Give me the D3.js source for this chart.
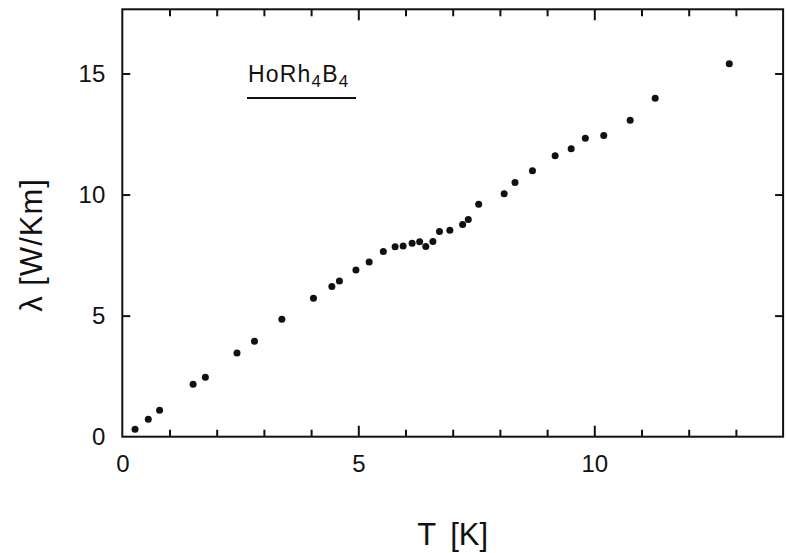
<!DOCTYPE html>
<html><head><meta charset="utf-8">
<script src="https://cdn.jsdelivr.net/npm/d3@7"></script>
<style>body{margin:0;background:#fff}svg{display:block}text{font-family:"Liberation Sans",Arial,sans-serif;fill:#111}</style>
</head><body>
<script>
const temperature = [0.27,0.55,0.79,1.50,1.76,2.43,2.80,3.38,4.05,4.44,4.60,4.95,5.23,5.53,5.78,5.95,6.14,6.30,6.43,6.58,6.72,6.94,7.21,7.33,7.55,8.09,8.32,8.69,9.17,9.51,9.81,10.20,10.76,11.29,12.86];
const conductivity = [0.31,0.72,1.09,2.17,2.45,3.46,3.94,4.85,5.72,6.20,6.43,6.88,7.21,7.65,7.84,7.88,7.99,8.05,7.85,8.06,8.47,8.53,8.76,8.97,9.60,10.03,10.50,10.98,11.60,11.89,12.33,12.44,13.07,13.98,15.40];
const xTickLabels = [0,5,10];
const yTickLabels = [0,5,10,15];
const xMinorTicks = [1,2,3,4,6,7,8,9,11,12,13];

const W=787,H=553;
const x=d3.scaleLinear().domain([0,14]).range([122.3,783.1]);
const y=d3.scaleLinear().domain([0,17.65]).range([436.7,9.3]);
const svg=d3.select("body").append("svg").attr("width",W).attr("height",H);

svg.append("rect").attr("x",x(0)).attr("y",y(17.65)).attr("width",x(14)-x(0)).attr("height",y(0)-y(17.65))
  .attr("fill","none").attr("stroke","#111").attr("stroke-width",2);

function tickAxis(axisFn, scale, ticks, len, transform){
  const g=svg.append("g").attr("transform",transform)
    .call(axisFn(scale).tickValues(ticks).tickSize(len).tickFormat(""));
  g.select(".domain").remove();
  g.selectAll(".tick line").attr("stroke","#111").attr("stroke-width",2);
  return g;
}
tickAxis(d3.axisTop,x,xMinorTicks,7,`translate(0,${y(0)})`);
tickAxis(d3.axisTop,x,[5,10],11,`translate(0,${y(0)})`);
tickAxis(d3.axisBottom,x,xMinorTicks,7,`translate(0,${y(17.65)})`);
tickAxis(d3.axisBottom,x,[5,10],11,`translate(0,${y(17.65)})`);
tickAxis(d3.axisRight,y,[5,10,15],8,`translate(${x(0)},0)`);
tickAxis(d3.axisLeft,y,[5,10,15],8,`translate(${x(14)},0)`);

const xl=svg.append("g").attr("transform",`translate(0,${y(0)+10})`)
  .call(d3.axisBottom(x).tickValues(xTickLabels).tickSize(0).tickFormat(d3.format("d")));
xl.select(".domain").remove();
xl.selectAll("text").attr("font-size",24).attr("dy","0.95em").attr("fill","#111");
const yl=svg.append("g").attr("transform",`translate(${x(0)-14},0)`)
  .call(d3.axisLeft(y).tickValues(yTickLabels).tickSize(0).tickFormat(d3.format("d")));
yl.select(".domain").remove();
yl.selectAll("text").attr("font-size",24).attr("fill","#111");

svg.append("g").selectAll("circle").data(temperature).join("circle")
  .attr("cx",(d)=>x(d)).attr("cy",(d,i)=>y(conductivity[i])).attr("r",3.5).attr("fill","#111");

const lab=svg.append("text").attr("x",248).attr("y",82).attr("font-size",23).attr("letter-spacing",1.2);
lab.append("tspan").text("HoRh");
lab.append("tspan").text("4").attr("font-size",17).attr("dy",5);
lab.append("tspan").text("B").attr("dy",-5);
lab.append("tspan").text("4").attr("font-size",17).attr("dy",5);
svg.append("line").attr("x1",247).attr("x2",356).attr("y1",98).attr("y2",98).attr("stroke","#111").attr("stroke-width",2);

const xt=svg.append("text").attr("x",(x(0)+x(14))/2).attr("y",545).attr("text-anchor","middle").attr("font-size",31);
xt.append("tspan").text("T");
xt.append("tspan").attr("dx",14).text("[K]");
svg.append("text").attr("transform",`translate(42,245) rotate(-90)`).attr("text-anchor","middle").attr("font-size",31).attr("letter-spacing",1).text("λ [W/Km]");
</script>
</body></html>
